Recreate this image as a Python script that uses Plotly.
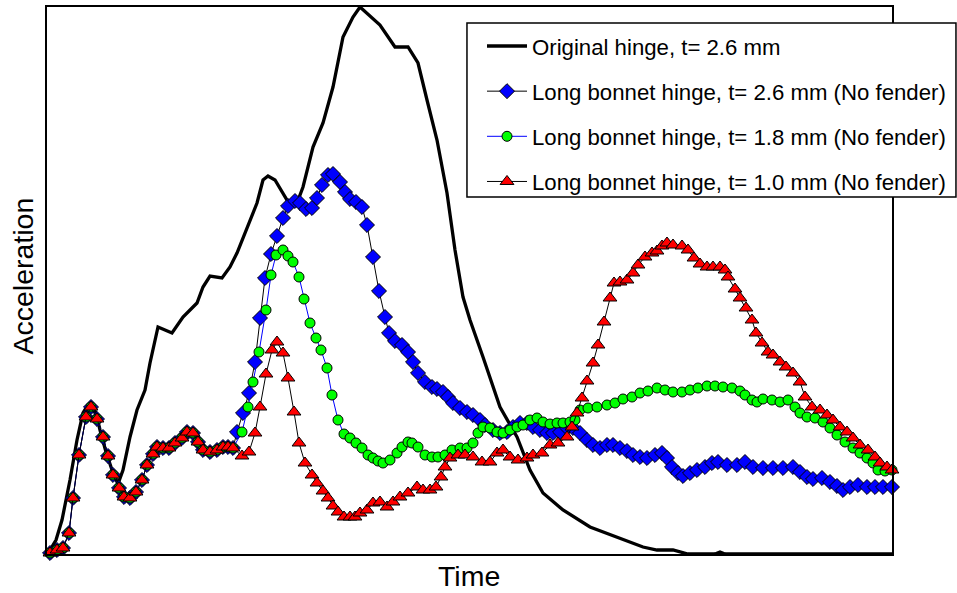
import plotly.graph_objects as go

# Time (arbitrary units) and acceleration (arbitrary units)
common_t = [0, 6, 13, 19, 25, 29, 35, 42, 47, 53, 59, 64, 69, 75, 80, 86, 92, 98, 103, 109,
            113, 119, 125, 131, 138, 143, 149, 154, 159, 166, 173, 179, 184, 189]
common_a = [1, 1, 4, 6, 21, 56, 99, 137, 147, 135, 117, 98, 79, 66, 57, 56, 62, 74, 89, 100,
            107, 106, 106, 111, 116, 122, 121, 112, 104, 102, 104, 107, 107, 106]

orig_t = [0, 6, 12, 18, 26, 33, 39, 44, 48, 52, 56, 62, 68, 74, 79, 86, 93, 101, 106, 114,
          121, 128, 139, 153, 159, 166, 178, 186, 193, 203, 213, 219, 224, 231, 243, 253, 259,
          269, 279, 289, 299, 309, 316, 336, 344, 351, 364, 374, 383, 393, 403, 411, 419, 426,
          439, 456, 473, 486, 499, 519, 546, 573, 599, 613, 629, 644, 671, 676, 681, 848]
orig_a = [1, 4, 14, 34, 74, 114, 141, 149, 149, 141, 124, 102, 84, 70, 84, 117, 144, 164, 191, 227,
          224, 221, 237, 251, 267, 278, 276, 287, 301, 327, 351, 374, 378, 374, 354, 351, 367,
          407, 431, 467, 517, 537, 547, 529, 517, 507, 507, 491, 454, 414, 361, 304, 257, 234,
          197, 147, 117, 84, 61, 44, 27, 17, 7, 4, 4, 0, 0, 2, 0, 0]

b26_t = common_t + [193, 199, 205, 211, 216, 221, 227, 233, 239, 244, 251, 256, 262, 268, 273, 278,
                    284, 289, 296, 301, 306, 312, 318, 323, 329, 335, 341, 345, 351, 358, 364, 369,
                    374, 381, 388, 393, 399, 404, 409, 416, 423, 429, 436, 441, 449, 456, 463, 469,
                    476, 483, 489, 496, 503, 509, 516, 523, 529, 536, 543, 549, 556, 563, 569, 576,
                    583, 589, 596, 603, 611, 618, 623, 628, 634, 639, 646, 653, 661, 668, 674, 683,
                    693, 701, 709, 719, 729, 739, 749, 756, 763, 769, 778, 786, 793, 799, 806, 814,
                    823, 831, 839, 848]
b26_a = common_a + [122, 141, 161, 192, 236, 276, 300, 318, 336, 348, 353, 351, 345, 346, 356, 369,
                    379, 380, 372, 362, 355, 352, 347, 329, 297, 263, 237, 221, 213, 209, 202, 192,
                    181, 172, 167, 165, 162, 157, 151, 146, 142, 139, 134, 129, 124, 121, 122, 127,
                    131, 131, 127, 124, 121, 121, 122, 126, 126, 121, 114, 109, 106, 109, 109, 106,
                    103, 99, 97, 96, 99, 101, 96, 87, 81, 78, 81, 84, 87, 91, 92, 89,
                    89, 92, 87, 86, 86, 86, 87, 82, 77, 75, 76, 72, 68, 64, 67, 69,
                    67, 67, 67, 67]

b18_t = common_t + [198, 204, 209, 215, 222, 227, 232, 239, 244, 249, 255, 260, 266, 272, 277, 283,
                    288, 294, 300, 306, 312, 318, 324, 329, 334, 339, 346, 353, 358, 364, 368, 374,
                    381, 388, 394, 401, 408, 416, 423, 429, 434, 439, 446, 453, 459, 466, 473, 479,
                    486, 493, 499, 506, 513, 519, 526, 531, 536, 544, 553, 563, 571, 579, 588, 596,
                    604, 613, 621, 629, 638, 646, 654, 663, 671, 679, 688, 696, 701, 708, 713, 719,
                    728, 736, 744, 751, 756, 763, 771, 779, 786, 793, 801, 809, 816, 823, 829, 834,
                    841, 848]
b18_a = common_a + [122, 147, 172, 202, 244, 279, 299, 304, 298, 292, 277, 255, 231, 216, 204, 186,
                    159, 134, 120, 116, 111, 106, 99, 96, 93, 91, 94, 101, 107, 112, 111, 107,
                    99, 97, 97, 99, 104, 106, 106, 111, 121, 127, 126, 122, 121, 124, 127, 129,
                    134, 136, 132, 130, 131, 131, 132, 134, 144, 146, 147, 149, 151, 155, 157, 161,
                    163, 166, 164, 162, 162, 164, 166, 168, 168, 167, 166, 163, 159, 154, 152, 155,
                    154, 152, 154, 147, 141, 137, 136, 132, 126, 119, 112, 106, 101, 96, 91, 84,
                    83, 84]

b10_t = common_t + [198, 205, 211, 216, 222, 228, 233, 239, 244, 250, 255, 261, 268, 273, 279, 284,
                    289, 294, 300, 306, 311, 316, 323, 329, 336, 343, 349, 356, 364, 373, 379, 386,
                    392, 397, 401, 406, 414, 421, 429, 438, 446, 453, 459, 466, 474, 483, 489, 498,
                    506, 514, 523, 528, 533, 538, 543, 549, 554, 560, 566, 570, 576, 583, 589, 594,
                    601, 608, 613, 618, 623, 629, 638, 644, 650, 656, 663, 669, 676, 681, 684, 691,
                    696, 702, 708, 712, 718, 724, 729, 736, 742, 749, 756, 761, 768, 776, 783, 789,
                    796, 803, 809, 816, 824, 831, 836, 843, 848]
b10_a = common_a + [98, 102, 121, 147, 180, 204, 212, 201, 176, 142, 111, 91, 79, 71, 63, 56,
                    48, 42, 37, 37, 37, 41, 44, 51, 52, 47, 52, 57, 61, 67, 64, 64,
                    67, 77, 87, 96, 99, 99, 97, 92, 92, 101, 104, 97, 94, 96, 99, 101,
                    109, 111, 117, 127, 141, 156, 173, 191, 209, 232, 256, 271, 272, 274, 281, 289,
                    297, 301, 303, 308, 311, 309, 308, 304, 296, 290, 287, 287, 287, 284, 277, 265,
                    256, 246, 234, 221, 211, 202, 199, 192, 187, 181, 172, 157, 147, 144, 139, 134,
                    127, 122, 116, 109, 104, 97, 91, 87, 84]

names = ["Original hinge, t= 2.6 mm",
         "Long bonnet hinge, t= 2.6 mm (No fender)",
         "Long bonnet hinge, t= 1.8 mm (No fender)",
         "Long bonnet hinge, t= 1.0 mm (No fender)"]

FONT = "Arial, Liberation Sans, sans-serif"

fig = go.Figure()
fig.add_trace(go.Scatter(x=orig_t, y=orig_a, mode="lines", name=names[0],
                         line=dict(color="black", width=3.3), legendgroup="g1"))
fig.add_trace(go.Scatter(x=b26_t, y=b26_a, mode="lines+markers", name=names[1],
                         line=dict(color="black", width=1),
                         marker=dict(symbol="diamond", size=11.5, color="#0000ff",
                                     line=dict(color="black", width=1)),
                         cliponaxis=False, legendgroup="g2"))
fig.add_trace(go.Scatter(x=b18_t, y=b18_a, mode="lines+markers", name=names[2],
                         line=dict(color="#0000ff", width=1),
                         marker=dict(symbol="circle", size=10, color="#00ff00",
                                     line=dict(color="black", width=1)),
                         cliponaxis=False, legendgroup="g3"))
fig.add_trace(go.Scatter(x=b10_t, y=b10_a, mode="lines+markers", name=names[3],
                         line=dict(color="black", width=1),
                         marker=dict(symbol="triangle-up", size=12, color="#ff0000",
                                     line=dict(color="black", width=1)),
                         cliponaxis=False, legendgroup="g4"))

axis_common = dict(showline=True, linecolor="black", linewidth=2, mirror=True,
                   showgrid=False, zeroline=False, showticklabels=False, ticks="")
fig.update_xaxes(range=[3, 848], **axis_common)
fig.update_yaxes(range=[0, 547], **axis_common)

fig.update_layout(
    width=957, height=593,
    margin=dict(l=47, r=65, t=7, b=39, autoexpand=False),
    paper_bgcolor="white", plot_bgcolor="white",
    font=dict(family=FONT, color="black"),
    shapes=[dict(type="rect", xref="paper", yref="paper",
                 x0=0.497, x1=1.0757, y0=0.6527, y1=0.9707,
                 fillcolor="white", line=dict(color="black", width=1.5), layer="above")],
    legend=dict(x=0.5148, y=0.967, xanchor="left", yanchor="top",
                bgcolor="rgba(0,0,0,0)", borderwidth=0,
                font=dict(size=22.2, family=FONT), traceorder="grouped",
                tracegroupgap=13.3, itemwidth=40),
    annotations=[
        dict(text="Time", xref="paper", yref="paper", x=0.4994, y=-0.0402,
             xanchor="center", yanchor="middle", showarrow=False,
             font=dict(size=28.5, family=FONT)),
        dict(text="Acceleration", xref="paper", yref="paper", x=-0.0284, y=0.5073,
             xanchor="center", yanchor="middle", showarrow=False, textangle=-90,
             font=dict(size=28.5, family=FONT)),
    ],
)

fig.write_html("out.html")
